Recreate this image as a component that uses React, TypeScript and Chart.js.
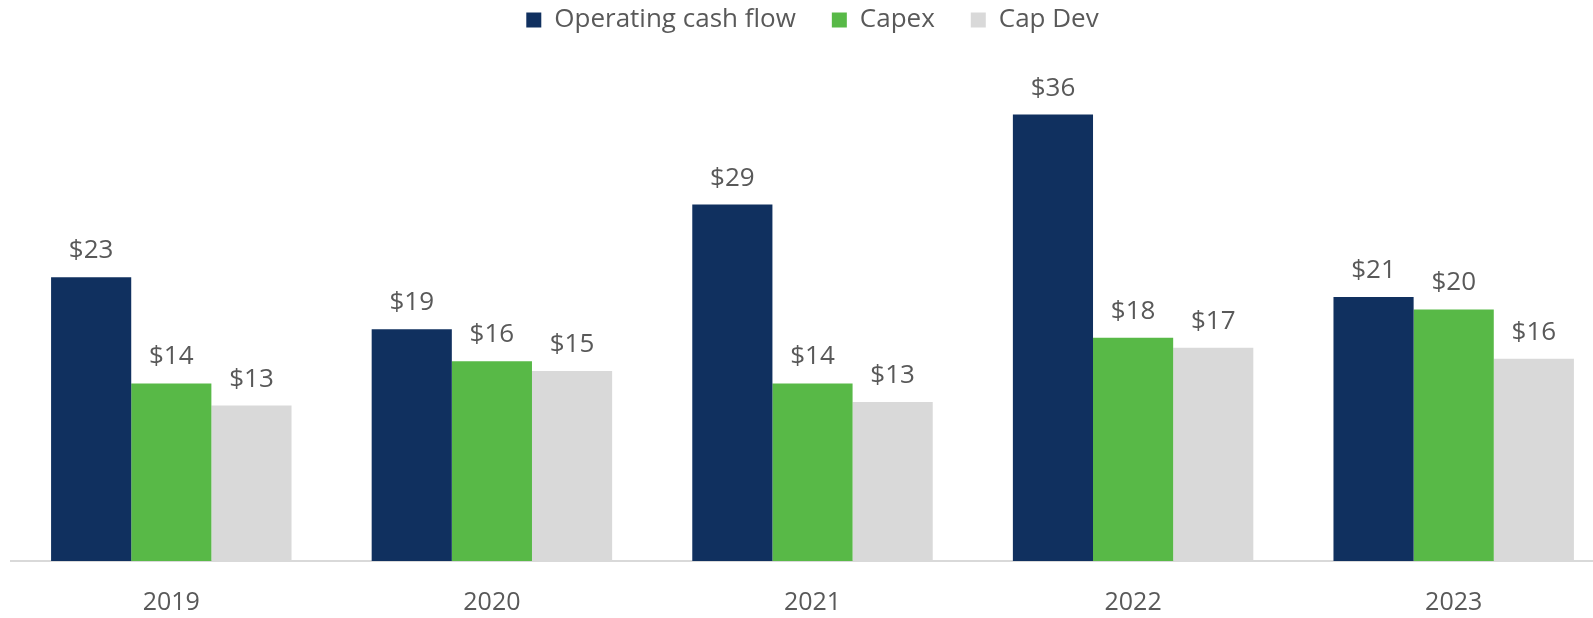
import React, { useEffect, useRef } from "react";
import { Chart, registerables } from "chart.js";

Chart.register(...registerables);

const categories = ["2019", "2020", "2021", "2022", "2023"];
const operatingCashFlow = [23.0, 18.8, 28.9, 36.2, 21.4];
const capex = [14.4, 16.2, 14.4, 18.1, 20.4];
const capDev = [12.6, 15.4, 12.9, 17.3, 16.4];
const seriesNames = ["Operating cash flow", "Capex", "Cap Dev"];
const seriesColors = ["#10305F", "#58B947", "#D9D9D9"];

const FONT = "'Open Sans', 'Noto Sans', sans-serif";
const TEXT = "#595959";

const dataLabels = {
  id: "dataLabels",
  afterDatasetsDraw(chart: any) {
    const ctx = chart.ctx;
    ctx.save();
    ctx.font = `26px ${FONT}`;
    ctx.fillStyle = TEXT;
    ctx.textAlign = "center";
    ctx.textBaseline = "alphabetic";
    chart.data.datasets.forEach((ds: any, di: number) => {
      const meta = chart.getDatasetMeta(di);
      meta.data.forEach((bar: any, i: number) => {
        const v = ds.data[i];
        ctx.fillText("$" + Math.round(v), bar.x, bar.y - 19);
      });
    });
    ctx.restore();
  },
};

export default function App() {
  const ref = useRef<HTMLCanvasElement | null>(null);
  useEffect(() => {
    if (!ref.current) return;
    const chart = new Chart(ref.current, {
      type: "bar",
      data: {
        labels: categories,
        datasets: [operatingCashFlow, capex, capDev].map((d, i) => ({
          label: seriesNames[i],
          data: d,
          backgroundColor: seriesColors[i],
          borderWidth: 0,
          categoryPercentage: 0.75,
          barPercentage: 1,
        })),
      },
      options: {
        responsive: false,
        animation: false,
        layout: { padding: { top: -29, left: 11, right: 0, bottom: 2 } },
        plugins: {
          tooltip: { enabled: false },
          legend: {
            position: "top",
            align: "center",
            labels: {
              boxWidth: 15,
              boxHeight: 15,
              padding: 36,
              color: TEXT,
              font: { family: FONT, size: 26 },
            },
          },
        },
        scales: {
          x: {
            grid: { display: false, drawTicks: false },
            border: { display: true, color: "#D9D9D9", width: 2 },
            ticks: { color: TEXT, font: { family: FONT, size: 25 }, padding: 27 },
          },
          y: {
            display: false,
            min: 0,
            max: 42,
          },
        },
      },
      plugins: [dataLabels],
    });
    return () => chart.destroy();
  }, []);
  return (
    <div
      style={{
        position: "fixed",
        left: 0,
        top: 0,
        width: 1593,
        height: 618,
        overflow: "hidden",
        background: "#fff",
      }}
    >
      <canvas ref={ref} width={1614} height={647} style={{ width: 1614, height: 647, display: "block" }} />
    </div>
  );
}
